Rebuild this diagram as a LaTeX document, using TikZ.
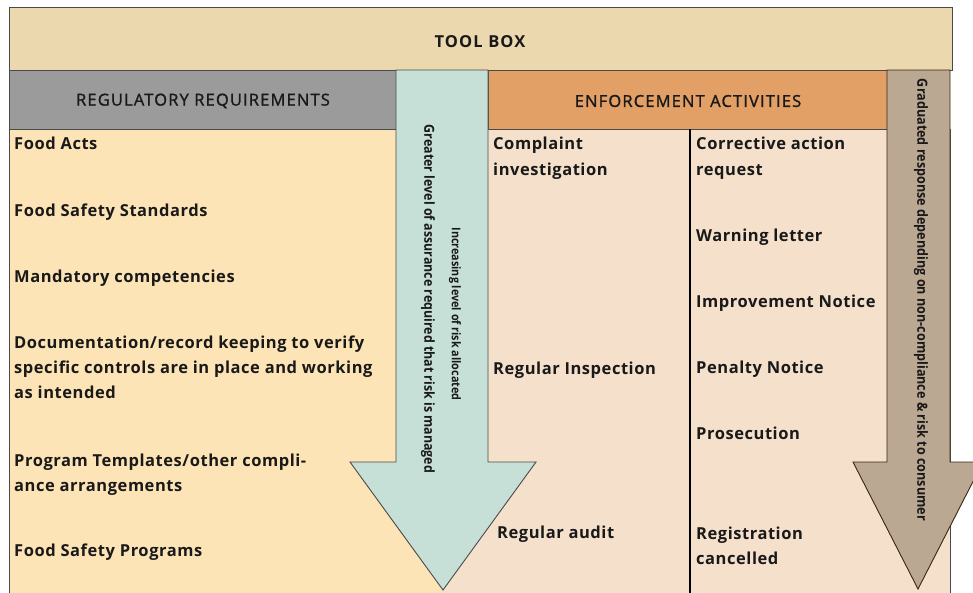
\documentclass[tikz,border=0pt]{standalone}
\usepackage{fontspec}
\setmainfont{Open Sans}
\newfontfamily\condfont[FakeStretch=0.9]{Open Sans}
\newfontfamily\bodyfont[LetterSpace=3.3]{Open Sans}
\newfontfamily\hdrfont[LetterSpace=7,FakeBold=1.3]{Open Sans}
\newfontfamily\toolfont[LetterSpace=7]{Open Sans}
\definecolor{toolc}{HTML}{EBD8AE}
\definecolor{grayhdr}{HTML}{9B9B9B}
\definecolor{orangehdr}{HTML}{E2A066}
\definecolor{creamc}{HTML}{FDE4B6}
\definecolor{peachc}{HTML}{F4E0CB}
\definecolor{greenarr}{HTML}{C6DFD7}
\definecolor{brownarr}{HTML}{BBA892}
\definecolor{edgec}{HTML}{4A4A4A}
\tikzset{
  bodytxt/.style={anchor=base west, inner sep=0pt, font=\bodyfont\bfseries\fontsize{16.5}{18}\selectfont, text=black!90},
  hdrtxt/.style={anchor=center, inner sep=0pt, font=\hdrfont\fontsize{16.5}{18}\selectfont, text=black!90},
  rottxt/.style={anchor=center, inner sep=0pt, rotate=-90, text=black!90},
  panel/.style={draw=edgec, line width=0.9pt}
}
\begin{document}
\begin{tikzpicture}[x=1pt,y=-1pt]
\useasboundingbox (0,0) rectangle (973,592);
\clip (0,0) rectangle (973,592);
\fill[white] (0,0) rectangle (973,592);
% body panels
\fill[creamc] (9,129) rectangle (443,595);
\fill[peachc] (443,129) rectangle (950,595);
\draw[edgec, line width=0.9pt] (9,70) -- (9,595);
\draw[edgec, line width=0.9pt] (950,129) -- (950,595);
% headers
\draw[panel, fill=toolc] (9,7) rectangle (952,70);
\draw[panel, fill=grayhdr] (9,70) rectangle (396,129);
\draw[panel, fill=orangehdr] (488,70) rectangle (887,129);
% divider
\draw[black, line width=1.4pt] (690,129) -- (690,595);
% arrows
\draw[panel, fill=greenarr] (396,70) -- (488,70) -- (488,462) -- (536,462) -- (443,590) -- (350,462) -- (396,462) -- cycle;
\draw[draw=black!70!brown, line width=0.9pt, fill=brownarr] (887,70) -- (950,70) -- (950,462) -- (983,462) -- (918,589) -- (853,462) -- (887,462) -- cycle;
% header texts
\node[hdrtxt, font=\toolfont\bfseries\fontsize{16.5}{18}\selectfont] (toolbox) at (480,42) {TOOL BOX};
\node[hdrtxt] (regreq) at (203,101) {REGULATORY REQUIREMENTS};
\node[hdrtxt] (enfact) at (688,101) {ENFORCEMENT ACTIVITIES};
% left column
\node[bodytxt] (l1) at (14,149) {Food Acts};
\node[bodytxt] (l2) at (14,216) {Food Safety Standards};
\node[bodytxt] (l3) at (14,282) {Mandatory competencies};
\node[bodytxt] (l4a) at (14,348) {Documentation/record keeping to verify};
\node[bodytxt] (l4b) at (14,373) {specific controls are in place and working};
\node[bodytxt] (l4c) at (14,398) {as intended};
\node[bodytxt] (l5a) at (14,466) {Program Templates/other compli-};
\node[bodytxt] (l5b) at (14,491) {ance arrangements};
\node[bodytxt] (l6) at (14,556) {Food Safety Programs};
% middle column
\node[bodytxt] (m1a) at (493,149) {Complaint};
\node[bodytxt] (m1b) at (493,175) {investigation};
\node[bodytxt] (m2) at (493,374) {Regular Inspection};
\node[bodytxt] (m3) at (497,538) {Regular audit};
% right column
\node[bodytxt] (r1a) at (696,149) {Corrective action};
\node[bodytxt] (r1b) at (696,175) {request};
\node[bodytxt] (r2) at (696,241) {Warning letter};
\node[bodytxt] (r3) at (696,307) {Improvement Notice};
\node[bodytxt] (r4) at (696,373) {Penalty Notice};
\node[bodytxt] (r5) at (696,439) {Prosecution};
\node[bodytxt] (r6a) at (696,539) {Registration};
\node[bodytxt] (r6b) at (696,564) {cancelled};
% rotated texts
\node[rottxt, font=\condfont\bfseries\fontsize{13.8}{15}\selectfont] (greater) at (428,299) {Greater level of assurance required that risk is managed};
\node[rottxt, font=\condfont\bfseries\fontsize{12}{14}\selectfont] (incr) at (455,314) {Increasing level of risk allocated};
\node[rottxt, font=\condfont\bfseries\fontsize{14}{16}\selectfont] (grad) at (921,300) {Graduated response depending on non-compliance \& risk to consumer};
\end{tikzpicture}
\end{document}
